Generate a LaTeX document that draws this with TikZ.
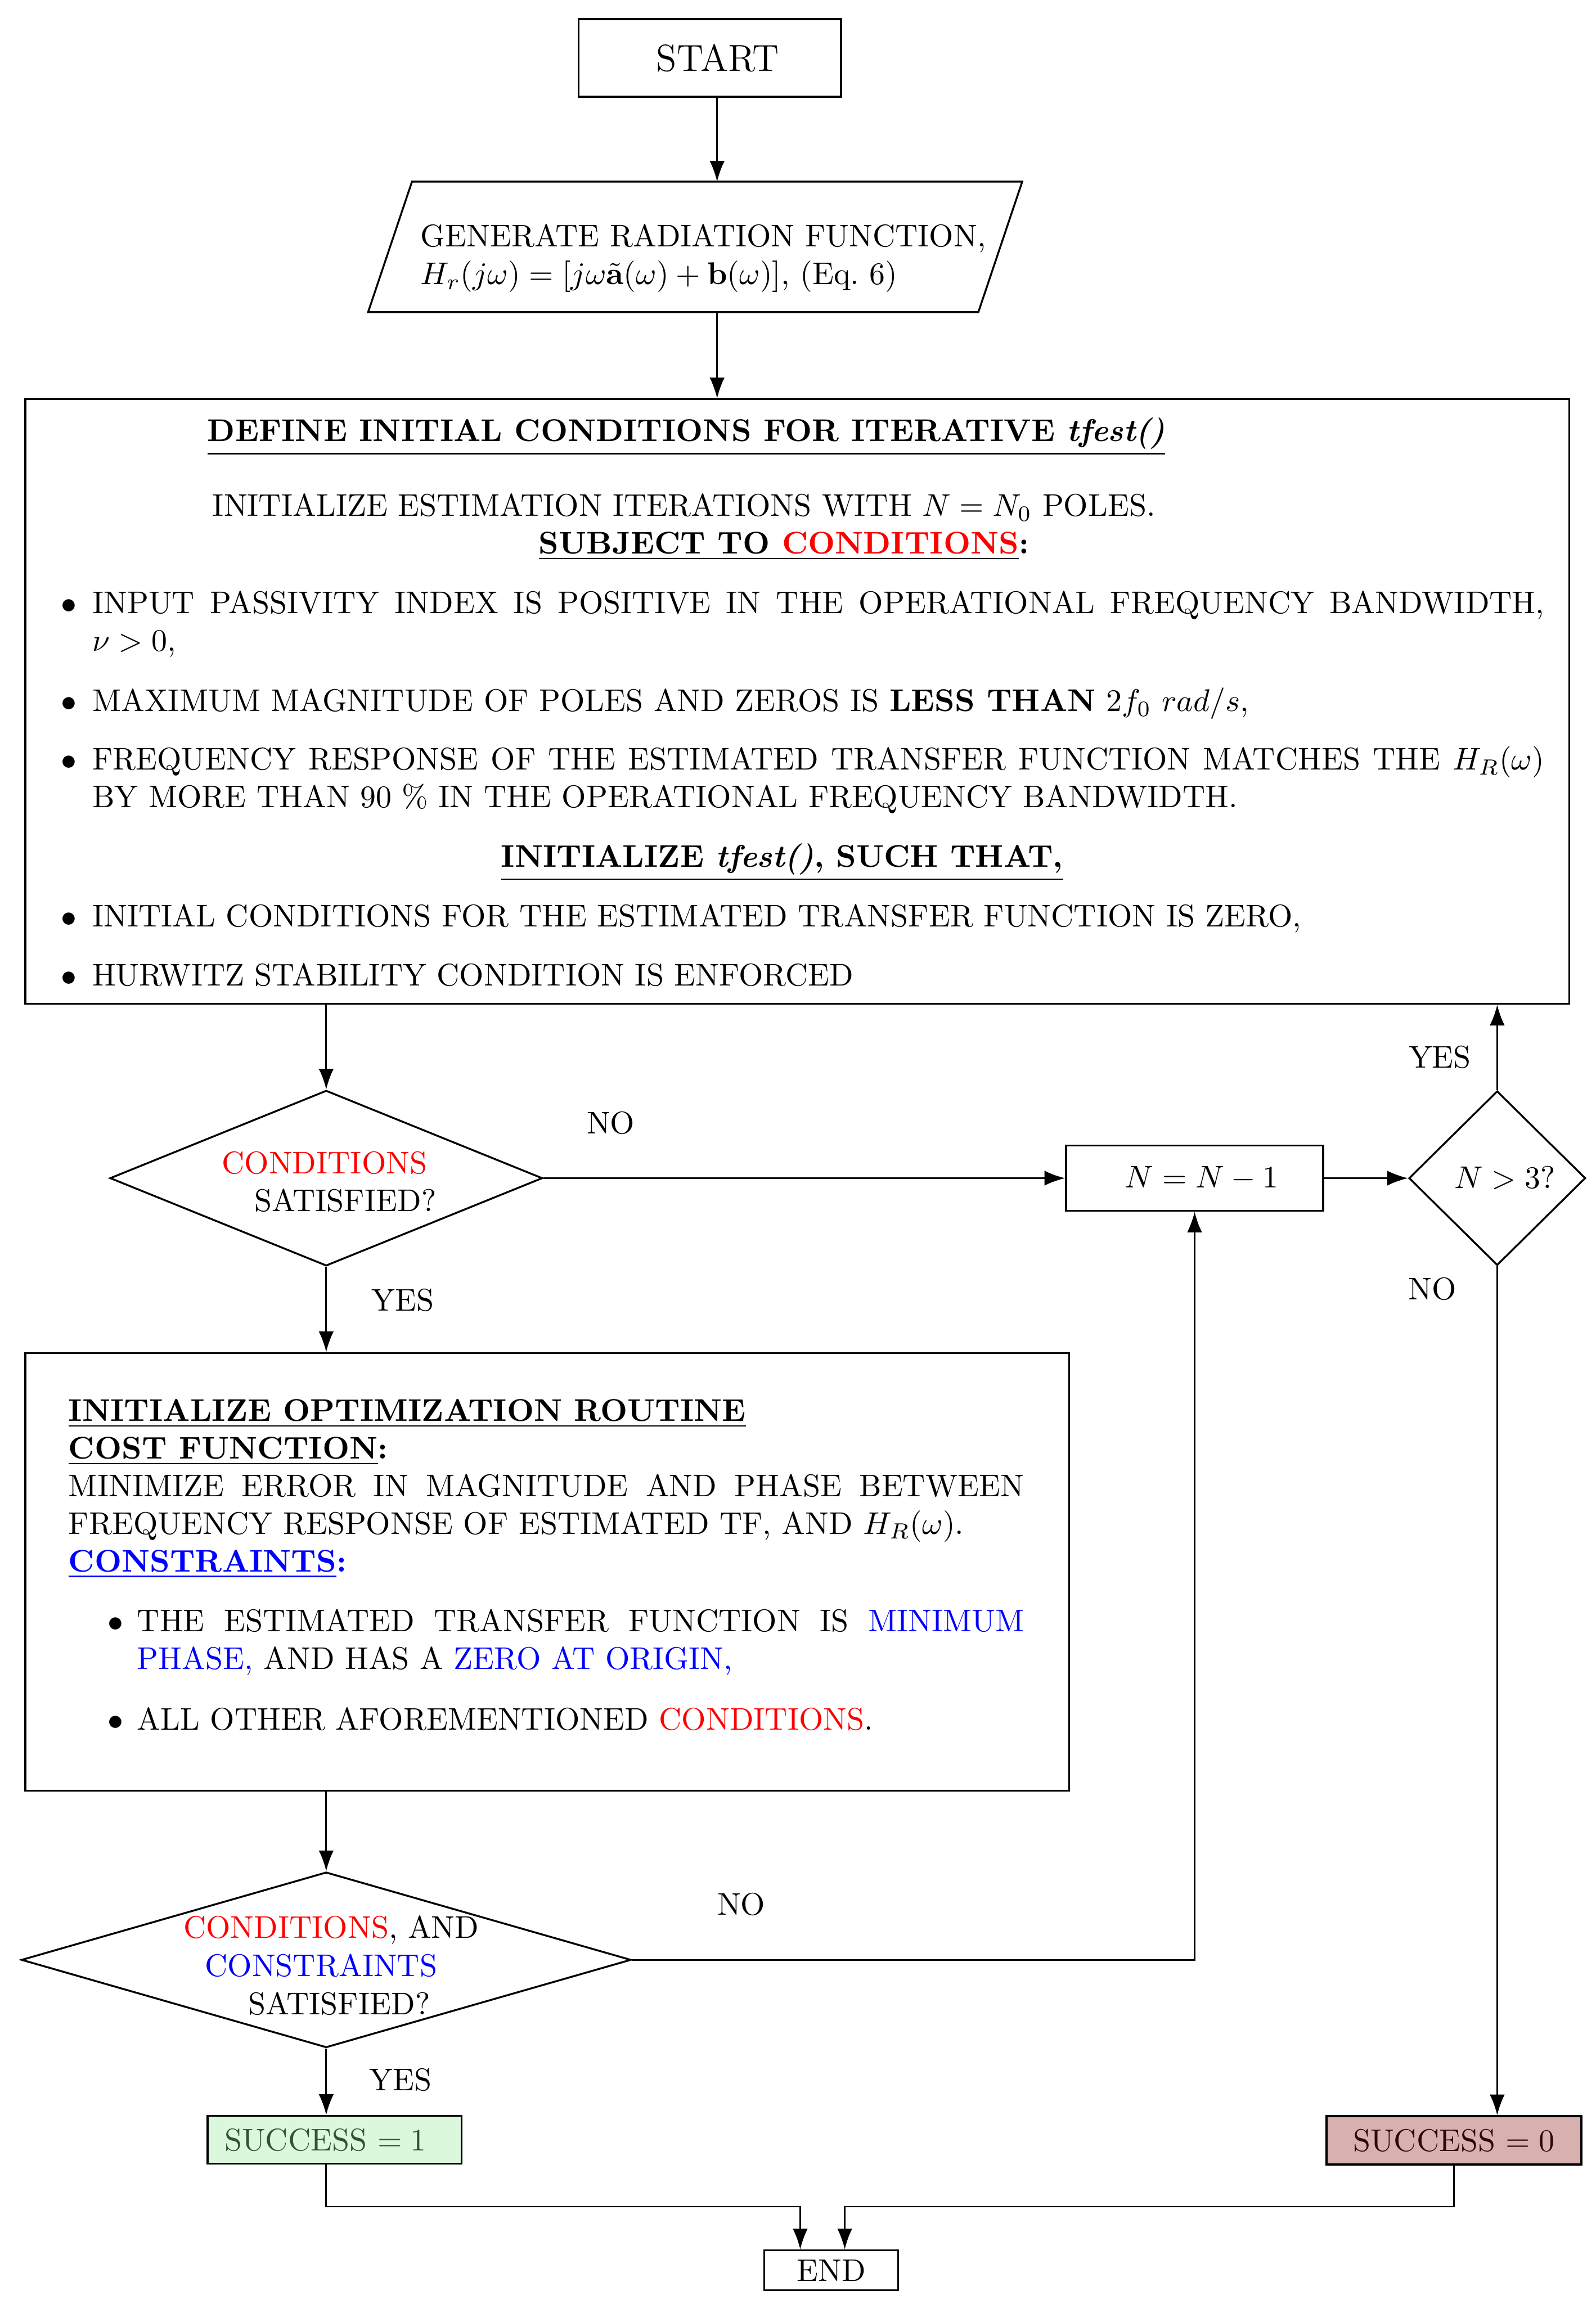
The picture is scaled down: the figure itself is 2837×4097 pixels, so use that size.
\documentclass[tikz,border=0pt]{standalone}
\usepackage{amsmath,amssymb}
\usetikzlibrary{shapes.geometric,arrows.meta,calc}
\definecolor{sgfill}{RGB}{220,248,220}
\definecolor{sgtext}{RGB}{52,82,52}
\definecolor{srfill}{RGB}{217,176,176}
\definecolor{srtext}{RGB}{45,8,8}
\newcommand{\PX}{0.1793pt}
\hyphenpenalty=10000
\exhyphenpenalty=10000
\emergencystretch=5pt
\begin{document}
\begin{tikzpicture}[x=0.1793pt, y=-0.1793pt,
  shp/.style={draw, line width=0.6pt, inner sep=0pt},
  arr/.style={line width=0.5pt, -{Latex[length=6.6pt,width=4.8pt]}},
  txt/.style={inner sep=0pt, outer sep=0pt},
  jpar/.style={txt, align=justify, anchor=base west},
  bigitem/.style={jpar, text width=472.8pt},
  optitem/.style={jpar, text width=292.1pt},
  ]
\fill[white] (0,0) rectangle (2837,4097);
\useasboundingbox (0,0) rectangle (2837,4097);

% ---------- shapes ----------
\node[shp, minimum width=467*\PX, minimum height=138*\PX, font=\large] (start) at (1262,103) {\hspace*{5pt}START};
\coordinate (trunk) at (1275,0);
\node[txt, minimum width=1163*\PX, minimum height=232*\PX] (para) at (1236,439) {};
\draw[line width=0.6pt] ([xshift=78*\PX]para.north west) -- (para.north east) -- ([xshift=-78*\PX]para.south east) -- (para.south west) -- cycle;
\node[txt, text width=195pt, align=left, anchor=base west] (paratext) at (748,439)
  {GENERATE RADIATION FUNCTION,\\ $H_r(j\omega)=[j\omega\tilde{\mathbf{a}}(\omega)+\mathbf{b}(\omega)]$, (Eq.~6)};

\node[shp, minimum width=2745*\PX, minimum height=1075*\PX] (big) at (1417.5,1247.5) {};
\node[shp, diamond, minimum width=769*\PX, minimum height=312*\PX] (d1) at (580,2095) {};
\node[shp, minimum width=457*\PX, minimum height=116*\PX] (nbox) at (2124,2095) {\hspace*{4.5pt}$N=N-1$};
\node[shp, diamond, minimum width=314*\PX, minimum height=310*\PX] (d3) at (2662,2095) {\hspace*{5pt}$N>3?$};
\node[shp, minimum width=1856*\PX, minimum height=778*\PX] (opt) at (973,2795) {};
\node[shp, diamond, minimum width=1084*\PX, minimum height=312*\PX] (d2) at (580,3485) {};
\node[shp, fill=sgfill, text=sgtext, minimum width=452*\PX, minimum height=85*\PX, text width=70.2pt, inner xsep=5.4pt, align=left] (s1) at (595,3805) {SUCCESS $= 1$};
\node[shp, fill=srfill, text=srtext, minimum width=453*\PX, minimum height=86*\PX] (s0) at (2585,3806) {SUCCESS $= 0$};
\node[shp, minimum width=238*\PX, minimum height=71*\PX] (fin) at (1478,4037) {END};

% ---------- big box text ----------
\node[txt, anchor=base west] (h1) at (369,785) {\textbf{\underline{DEFINE INITIAL CONDITIONS FOR ITERATIVE \textit{tfest()}}}};
\node[txt, anchor=base west] (l2) at (378,918) {INITIALIZE ESTIMATION ITERATIONS WITH $N=N_0$ POLES.};
\node[txt, anchor=base west] (l3) at (958,985) {\textbf{\underline{SUBJECT TO \textcolor{red}{CONDITIONS}}:}};
\node[bigitem] (i1) at (109,1091) {\makebox[9.9pt][l]{$\bullet$}\hangindent=9.9pt\hangafter=1 INPUT PASSIVITY INDEX IS POSITIVE IN THE OPERATIONAL FREQUENCY BANDWIDTH,\linebreak $\nu>0$,\par};
\node[bigitem] (i2) at (109,1265) {\makebox[9.9pt][l]{$\bullet$}MAXIMUM MAGNITUDE OF POLES AND ZEROS IS \textbf{LESS THAN} $2f_0\ rad/s$,};
\node[bigitem] (i3) at (109,1369) {\makebox[9.9pt][l]{$\bullet$}\hangindent=9.9pt\hangafter=1 FREQUENCY RESPONSE OF THE ESTIMATED TRANSFER FUNCTION MATCHES THE $H_R(\omega)$\linebreak BY MORE THAN 90~\% IN THE OPERATIONAL FREQUENCY BANDWIDTH.\par};
\node[txt, anchor=base west] (h2) at (891,1542) {\textbf{\underline{INITIALIZE \textit{tfest()}, SUCH THAT,}}};
\node[bigitem] (i4) at (109,1648) {\makebox[9.9pt][l]{$\bullet$}INITIAL CONDITIONS FOR THE ESTIMATED TRANSFER FUNCTION IS ZERO,};
\node[bigitem] (i5) at (109,1753) {\makebox[9.9pt][l]{$\bullet$}HURWITZ STABILITY CONDITION IS ENFORCED};

% ---------- optimization box text ----------
\node[jpar, text width=304.6pt] (b2) at (122,2527) {\textbf{\underline{INITIALIZE OPTIMIZATION ROUTINE}}\\
\textbf{\underline{COST FUNCTION}:}\\
MINIMIZE ERROR IN MAGNITUDE AND PHASE BETWEEN\linebreak FREQUENCY RESPONSE OF ESTIMATED TF, AND $H_R(\omega)$.\\
\textcolor{blue}{\textbf{\underline{CONSTRAINTS}:}}};
\node[optitem] (b2i1) at (192,2901) {\makebox[9.3pt][l]{$\bullet$}\hangindent=9.3pt\hangafter=1 THE ESTIMATED TRANSFER FUNCTION IS \textcolor{blue}{MINIMUM}\linebreak \textcolor{blue}{PHASE,} AND HAS A \textcolor{blue}{ZERO AT ORIGIN,}\par};
\node[optitem] (b2i2) at (192,3076) {\makebox[9.3pt][l]{$\bullet$}ALL OTHER AFOREMENTIONED \textcolor{red}{CONDITIONS}.};

% ---------- diamond texts ----------
\node[txt, anchor=base] (c1a) at (577,2087) {\textcolor{red}{CONDITIONS}};
\node[txt, anchor=base] (c1b) at (614,2154) {SATISFIED?};
\node[txt, anchor=base] (c2a) at (589,3446) {\textcolor{red}{CONDITIONS}, AND};
\node[txt, anchor=base] (c2b) at (571,3514) {\textcolor{blue}{CONSTRAINTS}};
\node[txt, anchor=base] (c2c) at (603,3582) {SATISFIED?};

% ---------- labels ----------
\node[txt, anchor=base] (noA) at (1086,2016) {NO};
\node[txt, anchor=base] (yesA) at (716,2331) {YES};
\node[txt, anchor=base] (yesB) at (2560,1899) {YES};
\node[txt, anchor=base] (noB) at (2547,2311) {NO};
\node[txt, anchor=base] (noC) at (1318,3405) {NO};
\node[txt, anchor=base] (yesC) at (712,3717) {YES};

% ---------- connectors ----------
\draw[arr] (start.south -| trunk) -- (para.north -| trunk);
\draw[arr] (para.south -| trunk) -- (big.north -| trunk);
\draw[arr] (big.south -| d1.north) -- (d1.north);
\draw[arr] (d1.east) -- (nbox.west);
\draw[arr] (nbox.east) -- (d3.west);
\draw[arr] (d3.north) -- (d3.north |- big.south);
\draw[arr] (d3.south) -- (d3.south |- s0.north);
\draw[arr] (d1.south) -- (d1.south |- opt.north);
\draw[arr] (opt.south -| d2.north) -- (d2.north);
\draw[arr] (d2.east) -| (nbox.south);
\draw[arr] (d2.south) -- (d2.south |- s1.north);
\coordinate (inL) at ([xshift=-9.9pt]fin.north);
\coordinate (inR) at ([xshift=4.3pt]fin.north);
\coordinate (jn) at (0,3924);
\draw[arr] (s1.south -| d2.south) |- (jn -| inL) -- (inL);
\draw[arr] (s0.south) |- (jn -| inR) -- (inR);
\end{tikzpicture}
\end{document}
